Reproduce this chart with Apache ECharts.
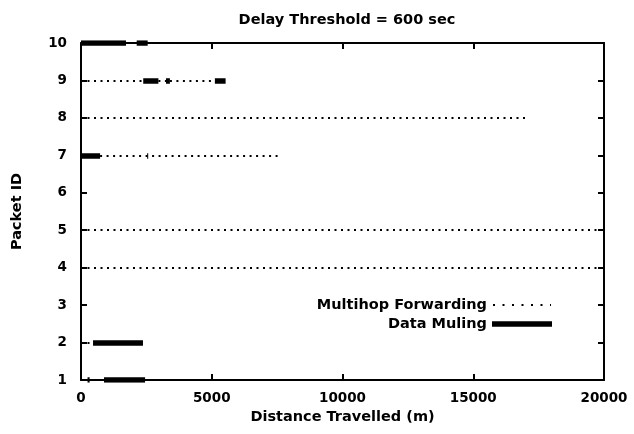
<!DOCTYPE html>
<html><head><meta charset="utf-8">
<script src="https://cdn.jsdelivr.net/npm/echarts@6/dist/echarts.min.js"></script>
<style>html,body{margin:0;padding:0;background:#fff}#c{width:634px;height:434px}</style>
</head><body><div id="c"></div>
<script>
// Segments: [packetId, startDistance, endDistance]
const multihopSegments = [
  [10, 1720, 2130],
  [9, 0, 2380], [9, 2960, 3250], [9, 3400, 5120],
  [8, 0, 17000],
  [7, 730, 7650],
  [5, 0, 20000],
  [4, 0, 20000],
  [2, 0, 460],
  [1, 0, 880]
];
const mulingSegments = [
  [10, 0, 1720], [10, 2130, 2550],
  [9, 2380, 2960], [9, 3250, 3400], [9, 5120, 5530],
  [7, 0, 730], [7, 2530, 2570],
  [2, 460, 2370],
  [1, 250, 330], [1, 880, 2450]
];
const xTicks = [0, 5000, 10000, 15000, 20000];
const yTicks = [1, 2, 3, 4, 5, 6, 7, 8, 9, 10];

const toLines = segs => segs.map(s => ({coords: [[s[1], s[0]], [s[2], s[0]]]}));
const font = '"DejaVu Sans", sans-serif';
const chart = echarts.init(document.getElementById('c'));
const axisCommon = {
  axisLine: {show: true, onZero: false, lineStyle: {color: '#000', width: 2}},
  axisTick: {show: true, inside: true, length: 6, lineStyle: {color: '#000', width: 2}},
  splitLine: {show: false}
};
const nameStyle = {fontFamily: font, fontSize: 14.5, fontWeight: 'bold', color: '#000'};
const labelStyle = {fontFamily: font, fontSize: 13.5, fontWeight: 'bold', color: '#000'};
chart.setOption({
  animation: false,
  title: {text: 'Delay Threshold = 600 sec', left: 342, top: 8, textAlign: 'center',
    textStyle: {fontFamily: font, fontSize: 14.5, fontWeight: 'bold', color: '#000'}},
  grid: {left: 81, right: 30, top: 43, bottom: 54},
  xAxis: [
    Object.assign({type: 'value', min: 0, max: 20000, interval: 5000, position: 'bottom',
      name: 'Distance Travelled (m)', nameLocation: 'middle', nameGap: 30,
      nameTextStyle: nameStyle,
      axisLabel: Object.assign({margin: 11, customValues: xTicks, formatter: v => String(v)}, labelStyle)}, axisCommon),
    Object.assign({type: 'value', min: 0, max: 20000, interval: 5000, position: 'top',
      axisLabel: {show: false}}, axisCommon)
  ],
  yAxis: [
    Object.assign({type: 'value', min: 1, max: 10, interval: 1, position: 'left',
      name: 'Packet ID', nameLocation: 'middle', nameGap: 56, nameRotate: 90,
      nameTextStyle: nameStyle,
      axisLabel: Object.assign({margin: 14, customValues: yTicks, formatter: v => String(v)}, labelStyle)}, axisCommon),
    Object.assign({type: 'value', min: 1, max: 10, interval: 1, position: 'right',
      axisLabel: {show: false}}, axisCommon)
  ],
  series: [
    {type: 'lines', coordinateSystem: 'cartesian2d', name: 'Multihop Forwarding',
      lineStyle: {color: '#000', width: 2, type: [2, 4.5], opacity: 1}, data: toLines(multihopSegments), z: 3},
    {type: 'lines', coordinateSystem: 'cartesian2d', name: 'Data Muling',
      lineStyle: {color: '#000', width: 5.5, type: 'solid', opacity: 1, cap: 'butt'}, data: toLines(mulingSegments), z: 4}
  ],
  graphic: [
    {type: 'text', x: 487, y: 305, style: {text: 'Multihop Forwarding', fill: '#000',
      font: 'bold 14.5px ' + font, align: 'right', verticalAlign: 'middle'}},
    {type: 'line', shape: {x1: 493, y1: 305, x2: 551, y2: 305}, style: {stroke: '#000', lineWidth: 2, lineDash: [2, 7.5]}},
    {type: 'text', x: 487, y: 324, style: {text: 'Data Muling', fill: '#000',
      font: 'bold 14.5px ' + font, align: 'right', verticalAlign: 'middle'}},
    {type: 'line', shape: {x1: 492, y1: 324, x2: 552, y2: 324}, style: {stroke: '#000', lineWidth: 5.5}}
  ]
});
</script></body></html>
